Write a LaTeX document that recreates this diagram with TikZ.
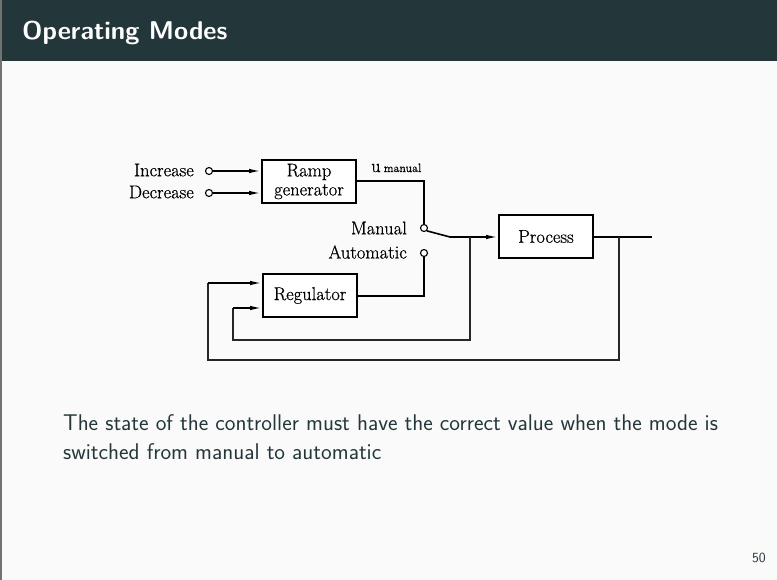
\documentclass[tikz,border=0pt]{standalone}
\usepackage{fontspec}
\usetikzlibrary{arrows.meta}
\newfontfamily\dfontfam[RawFeature={embolden=0.6}]{Latin Modern Roman}
\definecolor{mdark}{HTML}{23373B}
\definecolor{bgc}{HTML}{FAFAFA}
\tikzset{
  blk/.style={draw=black, line width=1.8pt, fill=white, minimum width=94pt, minimum height=43pt, inner sep=0pt, align=center, font=\diagfont},
  sig/.style={draw=black, line width=1.6pt},
  fb/.style={draw=black!85, line width=1.3pt},
  arr/.style={-{Latex[length=12pt,width=4.5pt]}},
  term/.style={circle, draw=black, line width=1.1pt, fill=white, minimum size=7pt, inner sep=0pt},
  lab/.style={font=\diagfont, inner sep=0pt},
}
\newcommand{\diagfont}{\dfontfam\fontsize{18.5}{21}\selectfont}
\begin{document}
\begin{tikzpicture}[x=1pt,y=-1pt]
\useasboundingbox (0,0) rectangle (777,580);
\fill[bgc] (0,0) rectangle (777,580);
\fill[mdark] (0,0) rectangle (777,61);
\fill[black!55] (0,0) rectangle (2,580);
\node[anchor=base west, inner sep=0pt, text=white, font=\sffamily\bfseries\fontsize{25.7}{30}\selectfont] (title) at (22,40) {Operating Modes};

% blocks
\node[blk] (ramp) at (309,181.5) {Ramp\\[-2pt]generator};
\node[blk] (proc) at (546,236.5) {Process};
\node[blk] (reg) at (310,295.5) {Regulator};

% terminals
\node[term] (inc) at (209,171) {};
\node[term] (dec) at (209,193) {};
\node[term] (man) at (424,228) {};
\node[term] (aut) at (424,253) {};

\node[lab, anchor=east] (tinc) at (194,170) {Increase};
\node[lab, anchor=east] (tdec) at (194,192) {Decrease};
\node[lab, anchor=east] (tman) at (407,228) {Manual};
\node[lab, anchor=east] (taut) at (407,252) {Automatic};
\node[lab, anchor=base west] (uman) at (371,172) {u\,{\fontsize{12}{14}\selectfont manual}};

% coordinates
\coordinate (rampout) at (ramp.east |- 0,181);
\coordinate (rc) at (424,181);
\coordinate (blade) at (450,237);
\coordinate (b1) at (470,237);
\coordinate (b2) at (619,237);
\coordinate (outend) at (652,237);
\coordinate (regin1) at (reg.west |- 0,283);
\coordinate (regin2) at (reg.west |- 0,308);
\coordinate (autc) at (424,296);

% signal lines
\draw[sig, arr] (inc.east) -- (ramp.west |- inc.east);
\draw[sig, arr] (dec.east) -- (ramp.west |- dec.east);
\draw[sig] (rampout) -- (rc) -- (man.north);
\draw[sig] (man.south east) -- (blade);
\draw[sig, arr] (blade) -- (proc.west |- blade);
\draw[sig] (proc.east |- outend) -- (outend);
\draw[sig] (reg.east |- autc) -- (autc) -- (aut.south);

% feedback
\draw[fb] (b1) -- (470,340) -- (233,340) -- (233,308);
\draw[sig, arr] (233,308) -- (regin2);
\draw[fb] (b2) -- (619,360) -- (208,360) -- (208,283);
\draw[sig, arr] (208,283) -- (regin1);

% body text
\node[anchor=base west, inner sep=0pt, text=mdark, align=left, font=\sffamily\fontsize{22.7}{29}\selectfont] (body) at (63,459) {The state of the controller must have the correct value when the mode is\\switched from manual to automatic};
\node[anchor=base east, inner sep=0pt, text=mdark, font=\sffamily\fontsize{14}{16}\selectfont] (pg) at (766,562) {50};
\end{tikzpicture}
\end{document}
